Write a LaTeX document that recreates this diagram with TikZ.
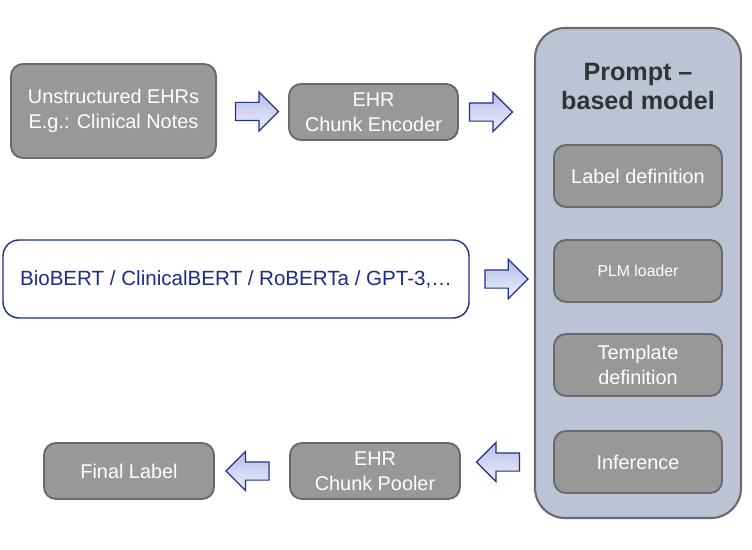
\documentclass[tikz,border=0pt]{standalone}
\usepackage{fontspec}
\setmainfont{Liberation Sans}
\usepackage{tikz}
\usetikzlibrary{positioning,calc,shapes.arrows}

\definecolor{boxgray}{HTML}{989898}
\definecolor{boxedge}{HTML}{6A6A6A}
\definecolor{modelfill}{HTML}{BCC3D5}
\definecolor{arrowedge}{HTML}{22318A}
\definecolor{arrowtop}{HTML}{B5BCE8}
\definecolor{arrowbot}{HTML}{EEF0FB}
\definecolor{plmblue}{HTML}{1C2C8C}
\definecolor{titlegray}{HTML}{333333}

\tikzset{
  graybox/.style={draw=boxedge, line width=1.1pt, fill=boxgray, rounded corners=0.24cm,
    text=white, align=center, font=\fontsize{11.3}{14}\selectfont},
  blockarrow/.style={single arrow, draw=arrowedge, line width=0.7pt,
    top color=arrowtop, bottom color=arrowbot, inner xsep=0pt, inner ysep=0.17cm,
    minimum height=0.86cm, single arrow head extend=0.21cm, single arrow head indent=0pt},
}

\begin{document}
\begin{tikzpicture}
        \useasboundingbox (0,0) rectangle (15.04,-11);

        % Box grande (modello)
        \node[draw=boxedge, line width=1.2pt, fill=modelfill, rounded corners=0.6cm,
              minimum width=4.12cm, minimum height=9.8cm] (model) at (12.76, -5.46) {};
        \node[align=center, text=titlegray, font=\fontsize{14.3}{16.4}\selectfont\bfseries]
              (title) at (12.76, -1.73) {Prompt –\\based model};

        % Passi interni
        \node[graybox, minimum width=3.36cm, minimum height=1.24cm] (labeldef) at (12.76, -3.52) {Label definition};
        \node[graybox, minimum width=3.36cm, minimum height=1.24cm, font=\fontsize{9}{11}\selectfont]
              (plm) at (12.76, -5.42) {PLM loader};
        \node[graybox, minimum width=3.36cm, minimum height=1.24cm] (template) at (12.76, -7.30) {Template\\definition};
        \node[graybox, minimum width=3.36cm, minimum height=1.24cm] (inference) at (12.76, -9.24) {Inference};

        % Ingresso
        \node[graybox, minimum width=4.1cm, minimum height=1.88cm] (ehr) at (2.27, -2.22) {Unstructured EHRs\\E.g.: Clinical Notes};
        \node[graybox, minimum width=3.38cm, minimum height=1.12cm] (encoder) at (7.47, -2.24) {EHR\\Chunk Encoder};

        % Modelli linguistici
        \node[draw=plmblue, line width=0.8pt, fill=white, rounded corners=0.32cm, text=plmblue,
              minimum width=9.32cm, minimum height=1.56cm, font=\fontsize{11.7}{14}\selectfont]
              (bert) at (4.72, -5.58) {BioBERT / ClinicalBERT / RoBERTa / GPT-3,…};

        % Uscita
        \node[graybox, minimum width=3.4cm, minimum height=1.12cm] (final) at (2.58, -9.42) {Final Label};
        \node[graybox, minimum width=3.4cm, minimum height=1.12cm] (pooler) at (7.50, -9.42) {EHR\\Chunk Pooler};

        % Frecce
        \node[blockarrow] (arr1) at ($(ehr.east)!0.5!(encoder.west)$) {};
        \node[blockarrow, xshift=-0.2cm] (arr2) at ($(encoder.east)!0.5!(encoder.east -| model.west)$) {};
        \node[blockarrow] (arr3) at ($(bert.east)!0.5!(bert.east -| model.west)$) {};
        \node[blockarrow, shape border rotate=180, xshift=0.1cm] (arr4) at ($(inference.west -| pooler.east)!0.5!(inference.west -| model.west)$) {};
        \node[blockarrow, shape border rotate=180] (arr5) at ($(pooler.west)!0.5!(final.east)$) {};
    \end{tikzpicture}
\end{document}
